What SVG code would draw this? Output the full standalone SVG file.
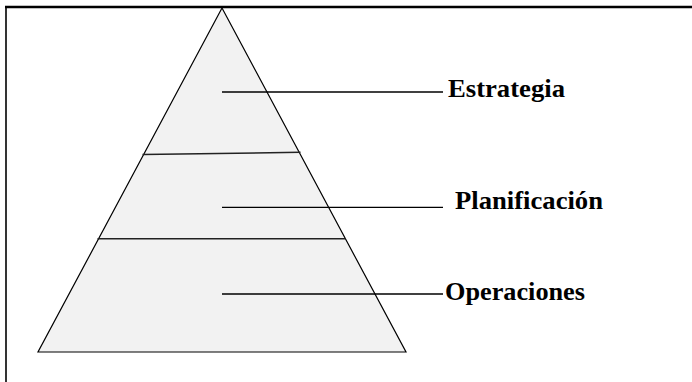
<svg xmlns="http://www.w3.org/2000/svg" width="692" height="382" viewBox="0 0 692 382">
  <style>
    .frame { stroke: #000; fill: none; }
    .tri { fill: #f2f2f2; stroke: #000; stroke-width: 1.2; stroke-linejoin: miter; }
    .div { stroke: #222; stroke-width: 1.5; fill: none; }
    .lead { stroke: #000; stroke-width: 1.3; fill: none; }
    .lbl { font-weight: bold; font-size: 26px; fill: #000; }
  </style>
  <rect width="692" height="382" fill="#fff"/>
  <!-- page frame: top and left edges -->
  <line class="frame" x1="5" y1="7" x2="692" y2="7" stroke-width="2.5"/>
  <line class="frame" x1="6" y1="6" x2="6" y2="382" stroke-width="1.6"/>

  <g id="pyramid">
    <polygon class="tri" points="222,8 406,352 38,352"/>
    <line class="div" x1="142.5" y1="154.5" x2="300.5" y2="152.3"/>
    <line class="div" x1="97.5" y1="238.8" x2="346" y2="238.8"/>
  </g>

  <g id="connectors">
    <line class="lead" x1="222" y1="92" x2="443" y2="92"/>
    <line class="lead" x1="222" y1="207.3" x2="443" y2="207.3"/>
    <line class="lead" x1="222" y1="294" x2="443" y2="294"/>
  </g>

  <g id="labels" font-family="'Liberation Serif', 'Times New Roman', 'DejaVu Serif', serif">
    <g id="estrategia">
      <text class="lbl" x="448" y="97" textLength="117" lengthAdjust="spacingAndGlyphs">Estrategia</text>
    </g>
    <g id="planificacion">
      <text class="lbl" x="455" y="209" textLength="148" lengthAdjust="spacingAndGlyphs">Planificación</text>
    </g>
    <g id="operaciones">
      <text class="lbl" x="445" y="300" textLength="140" lengthAdjust="spacingAndGlyphs">Operaciones</text>
    </g>
  </g>
</svg>
